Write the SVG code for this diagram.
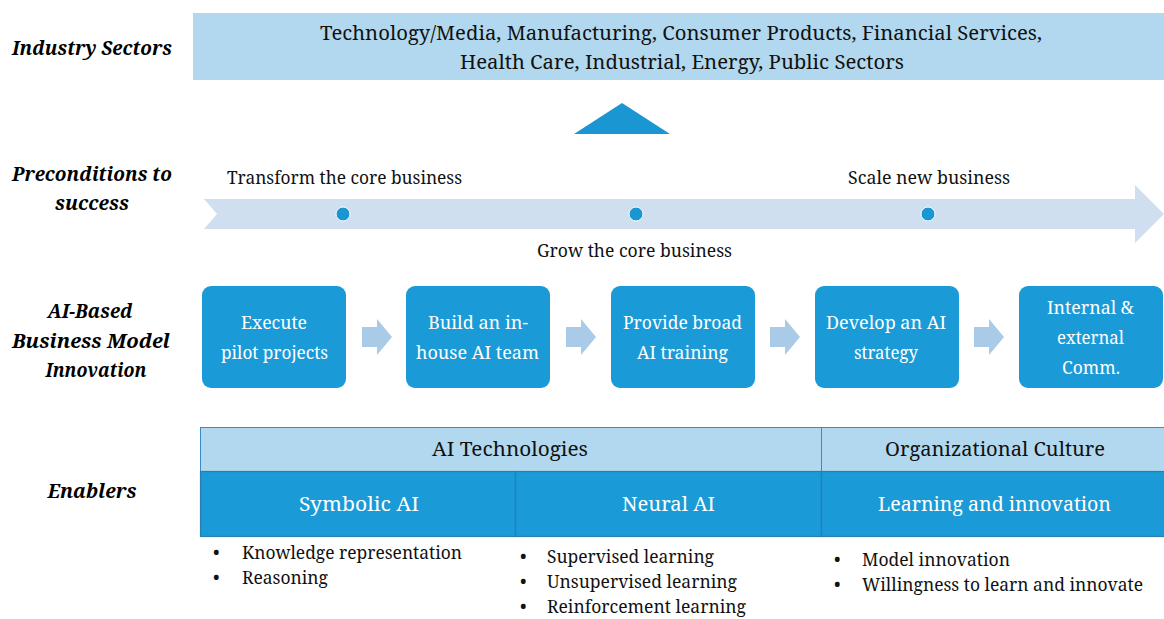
<svg xmlns="http://www.w3.org/2000/svg" width="1164" height="619" viewBox="0 0 1164 619">
<defs>
<style>
text{font-family:"Noto Serif","DejaVu Serif","Liberation Serif",serif}
.lab{font-weight:bold;font-style:italic;font-size:20.5px;fill:#000;text-anchor:middle}
.t{font-size:18px;fill:#111}
.tc{font-size:18px;fill:#111;text-anchor:middle}
.big{font-size:19.5px;fill:#111;text-anchor:middle}
.w{font-size:18.5px;fill:#fff;text-anchor:middle}
.wb{font-size:19.5px;fill:#fff;text-anchor:middle}
.box{fill:#1a9ad6}
.sarrow{fill:#a9cbe8}
.dot{fill:#1a96d3;stroke:#fff;stroke-width:1}
.cellL{fill:#b1d8ee;stroke:#3a8cc2;stroke-width:1}
.cellD{fill:#1a9ad6;stroke:#2a7db3;stroke-width:1.2}
</style>
</defs>
<rect width="1164" height="619" fill="#fff"/>

<g id="labels">
<text class="lab" x="92" y="55" textLength="160" lengthAdjust="spacingAndGlyphs">Industry Sectors</text>
<text class="lab" x="92" y="181" textLength="160" lengthAdjust="spacingAndGlyphs">Preconditions to</text>
<text class="lab" x="92" y="210" textLength="74" lengthAdjust="spacingAndGlyphs">success</text>
<text class="lab" x="90" y="318" textLength="85" lengthAdjust="spacingAndGlyphs">AI-Based</text>
<text class="lab" x="91" y="348" textLength="158" lengthAdjust="spacingAndGlyphs">Business Model</text>
<text class="lab" x="96" y="377" textLength="101" lengthAdjust="spacingAndGlyphs">Innovation</text>
<text class="lab" x="92" y="498" textLength="89" lengthAdjust="spacingAndGlyphs">Enablers</text>
</g>

<g id="industry">
<rect x="193" y="13" width="971" height="67" fill="#b1d8ee"/>
<text class="big" x="681" y="40" textLength="722" lengthAdjust="spacingAndGlyphs">Technology/Media, Manufacturing, Consumer Products, Financial Services,</text>
<text class="big" x="682" y="69" textLength="444" lengthAdjust="spacingAndGlyphs">Health Care, Industrial, Energy, Public Sectors</text>
</g>

<g id="triangle">
<polygon points="574,134 670,134 622,103" fill="#1a96d3"/>
</g>

<g id="preconditions">
<polygon points="204,199 1135,199 1135,185 1164,214 1135,243 1135,229 204,229 217,214" fill="#cfdff0"/>
<circle class="dot" cx="343" cy="214" r="7"/>
<circle class="dot" cx="636" cy="214" r="7"/>
<circle class="dot" cx="928" cy="214" r="7"/>
<text class="tc" x="344.5" y="184" textLength="235" lengthAdjust="spacingAndGlyphs">Transform the core business</text>
<text class="tc" x="929" y="184" textLength="162" lengthAdjust="spacingAndGlyphs">Scale new business</text>
<text class="tc" x="634.5" y="257" textLength="195" lengthAdjust="spacingAndGlyphs">Grow the core business</text>
</g>

<g id="connectors">
<polygon class="sarrow" points="362,327 377,327 377,319 392,337 377,355 377,347 362,347"/>
<polygon class="sarrow" points="566,327 581,327 581,319 596,337 581,355 581,347 566,347"/>
<polygon class="sarrow" points="770,327 785,327 785,319 800,337 785,355 785,347 770,347"/>
<polygon class="sarrow" points="974,327 989,327 989,319 1004,337 989,355 989,347 974,347"/>
</g>

<g id="step1">
<rect class="box" x="202" y="286" width="144" height="102" rx="9"/>
<text class="w" x="274" y="329" textLength="66" lengthAdjust="spacingAndGlyphs">Execute</text>
<text class="w" x="274.5" y="359" textLength="107" lengthAdjust="spacingAndGlyphs">pilot projects</text>
</g>
<g id="step2">
<rect class="box" x="406" y="286" width="144" height="102" rx="9"/>
<text class="w" x="478" y="329" textLength="100" lengthAdjust="spacingAndGlyphs">Build an in-</text>
<text class="w" x="477.5" y="359" textLength="123" lengthAdjust="spacingAndGlyphs">house AI team</text>
</g>
<g id="step3">
<rect class="box" x="611" y="286" width="144" height="102" rx="9"/>
<text class="w" x="682.5" y="329" textLength="119" lengthAdjust="spacingAndGlyphs">Provide broad</text>
<text class="w" x="682.5" y="359" textLength="91" lengthAdjust="spacingAndGlyphs">AI training</text>
</g>
<g id="step4">
<rect class="box" x="815" y="286" width="144" height="102" rx="9"/>
<text class="w" x="886" y="329" textLength="120" lengthAdjust="spacingAndGlyphs">Develop an AI</text>
<text class="w" x="886" y="359" textLength="64" lengthAdjust="spacingAndGlyphs">strategy</text>
</g>
<g id="step5">
<rect class="box" x="1019" y="286" width="144" height="102" rx="9"/>
<text class="w" x="1090.5" y="314" textLength="87" lengthAdjust="spacingAndGlyphs">Internal &amp;</text>
<text class="w" x="1090.5" y="344" textLength="67" lengthAdjust="spacingAndGlyphs">external</text>
<text class="w" x="1091" y="374" textLength="58" lengthAdjust="spacingAndGlyphs">Comm.</text>
</g>

<g id="enablers">
<rect class="cellL" x="200.5" y="427.5" width="621" height="44"/>
<rect class="cellL" x="821.5" y="427.5" width="343" height="44"/>
<rect class="cellD" x="200.5" y="471.5" width="315" height="65"/>
<rect class="cellD" x="515.5" y="471.5" width="306" height="65"/>
<rect class="cellD" x="821.5" y="471.5" width="343" height="65"/>
<text class="big" x="510" y="456" textLength="156" lengthAdjust="spacingAndGlyphs">AI Technologies</text>
<text class="big" x="995" y="456" textLength="220" lengthAdjust="spacingAndGlyphs">Organizational Culture</text>
<text class="wb" x="359" y="511" textLength="120" lengthAdjust="spacingAndGlyphs">Symbolic AI</text>
<text class="wb" x="668.5" y="511" textLength="93" lengthAdjust="spacingAndGlyphs">Neural AI</text>
<text class="wb" x="994.5" y="511" textLength="233" lengthAdjust="spacingAndGlyphs">Learning and innovation</text>
</g>

<g id="bullets">
<text class="t" x="213" y="559">•</text><text class="t" x="242" y="559" textLength="220" lengthAdjust="spacingAndGlyphs">Knowledge representation</text>
<text class="t" x="213" y="584">•</text><text class="t" x="242" y="584" textLength="86" lengthAdjust="spacingAndGlyphs">Reasoning</text>
<text class="t" x="520" y="563">•</text><text class="t" x="547" y="563" textLength="167" lengthAdjust="spacingAndGlyphs">Supervised learning</text>
<text class="t" x="520" y="588">•</text><text class="t" x="547" y="588" textLength="190" lengthAdjust="spacingAndGlyphs">Unsupervised learning</text>
<text class="t" x="520" y="613">•</text><text class="t" x="547" y="613" textLength="199" lengthAdjust="spacingAndGlyphs">Reinforcement learning</text>
<text class="t" x="834" y="566">•</text><text class="t" x="862" y="566" textLength="148" lengthAdjust="spacingAndGlyphs">Model innovation</text>
<text class="t" x="834" y="591">•</text><text class="t" x="862" y="591" textLength="281" lengthAdjust="spacingAndGlyphs">Willingness to learn and innovate</text>
</g>
</svg>
